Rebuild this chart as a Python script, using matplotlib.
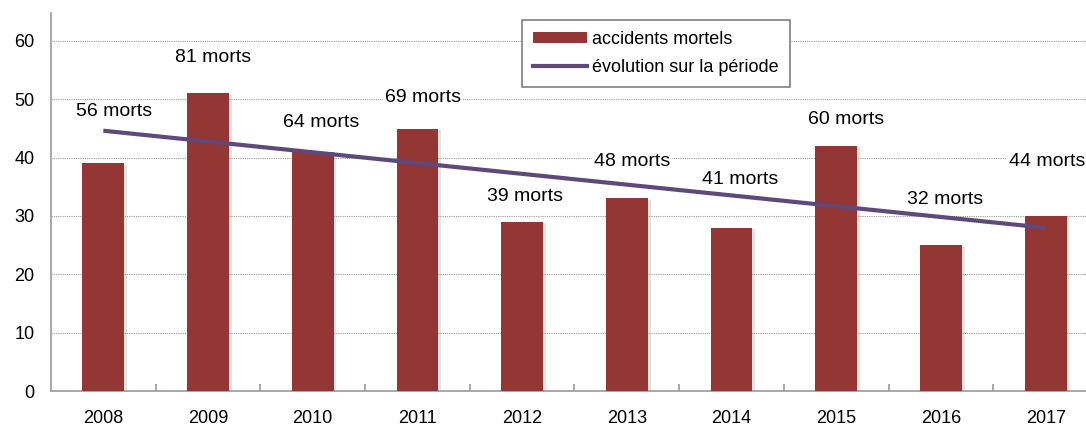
import numpy as np
import matplotlib
matplotlib.use("Agg")
import matplotlib.pyplot as plt
import matplotlib.patheffects as pe
from matplotlib.lines import Line2D
from matplotlib.patches import Patch

# ── Data ──
years = ["2008", "2009", "2010", "2011", "2012", "2013", "2014", "2015", "2016", "2017"]
accidents = [39, 51, 41, 45, 29, 33, 28, 42, 25, 30]
morts = [56, 81, 64, 69, 39, 48, 41, 60, 32, 44]
label_y = [48.0, 57.1, 46.1, 50.4, 33.3, 39.4, 36.2, 46.5, 32.9, 39.4]
label_dx = [0.1, 0.05, 0.08, 0.05, 0.03, 0.05, 0.08, 0.09, 0.04, 0.01]

# ── Style ──
C = {"bar": "#943634", "trend": "#5f497a", "grid": "#9a9a9a", "axis": "#9a9a9a", "text": "#000000"}
plt.rcParams.update({
    "font.family": ["Liberation Sans Narrow", "Liberation Sans", "DejaVu Sans"],
    "font.size": 13,
})

fig = plt.figure(figsize=(10.86, 4.26), dpi=100)
ax = fig.add_axes([51 / 1086, 35 / 426, 1 - 51 / 1086, 378 / 426])

x = np.arange(len(years))
ax.bar(x, accidents, width=0.4, color=C["bar"], zorder=3,
       path_effects=[pe.SimplePatchShadow(offset=(2, -1), shadow_rgbFace="#999999", alpha=0.25), pe.Normal()])

# linear trend over the period
coef = np.polyfit(x, accidents, 1)
ax.plot(x, np.polyval(coef, x), color=C["trend"], lw=3, zorder=4, solid_capstyle="butt")

for xi, m, ly, dx in zip(x, morts, label_y, label_dx):
    ax.text(xi + dx, ly, f"{m} morts", ha="center", va="center", fontsize=14, zorder=5,
            bbox=dict(facecolor="white", edgecolor="none", pad=1.5))

ax.set_ylim(0, 60 * 378 / 350)
ax.set_xlim(-0.5, 9.5 - 12 / 104.75)
ax.set_yticks(range(0, 61, 10))
ax.yaxis.grid(True, linestyle=(0, (1, 1)), color=C["grid"], lw=0.8, zorder=0)
ax.set_axisbelow(True)

ax.set_xticks(x)
ax.set_xticklabels(years)
ax.set_xticks(np.arange(0.5, 9.5, 1), minor=True)
ax.tick_params(axis="x", which="major", length=0, pad=14, labelsize=13)
ax.tick_params(axis="x", which="minor", length=5, width=1.2, direction="in", color=C["axis"])
ax.tick_params(axis="y", length=0, pad=12, labelsize=13)

for s in ["top", "right"]:
    ax.spines[s].set_visible(False)
for s in ["left", "bottom"]:
    ax.spines[s].set_color(C["axis"])
    ax.spines[s].set_linewidth(1.2)

handles = [Patch(facecolor=C["bar"], edgecolor="none"),
           Line2D([0], [0], color=C["trend"], lw=3)]
leg = ax.legend(handles, ["accidents mortels", "évolution sur la période"],
                loc="upper left", bbox_to_anchor=(471 / 1035, 1 - 7 / 378), fontsize=13,
                frameon=True, fancybox=False, framealpha=1, edgecolor="#808080",
                handlelength=3.0, handleheight=0.6, borderpad=0.6, labelspacing=0.6,
                handletextpad=0.3, borderaxespad=0)
leg.get_frame().set_linewidth(1.2)
leg.set_zorder(6)

fig.savefig("out.png", dpi=100)
